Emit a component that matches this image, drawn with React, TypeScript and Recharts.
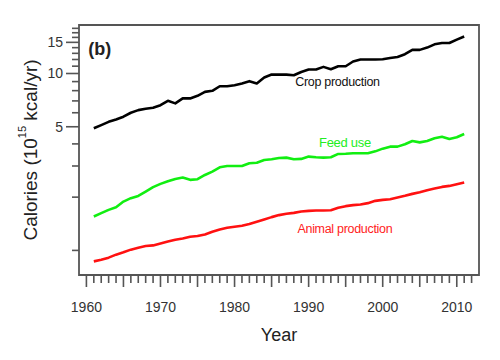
import React from 'react';
import { LineChart, Line, XAxis, YAxis, ReferenceArea, ReferenceDot, Label } from 'recharts';

const years = [1961,1962,1963,1964,1965,1966,1967,1968,1969,1970,1971,1972,1973,1974,1975,1976,1977,1978,1979,1980,1981,1982,1983,1984,1985,1986,1987,1988,1989,1990,1991,1992,1993,1994,1995,1996,1997,1998,1999,2000,2001,2002,2003,2004,2005,2006,2007,2008,2009,2010,2011];

const crop = [4.90,5.11,5.33,5.50,5.70,6.00,6.21,6.32,6.40,6.62,
  7.01,6.78,7.23,7.23,7.48,7.87,7.98,8.47,8.47,8.59,
  8.79,9.05,8.79,9.49,9.86,9.86,9.86,9.77,10.2,10.53,
  10.53,10.9,10.57,10.99,10.99,11.69,11.99,11.99,11.99,12.04,
  12.24,12.4,12.85,13.6,13.6,14.01,14.62,14.87,14.87,15.55,16.2];

const feed = [1.555,1.625,1.695,1.755,1.888,1.973,2.033,2.15,2.277,2.377,
  2.462,2.536,2.58,2.505,2.525,2.67,2.79,2.95,3.0,3.0,
  3.0,3.11,3.13,3.245,3.275,3.33,3.345,3.275,3.29,3.39,
  3.36,3.345,3.36,3.51,3.52,3.54,3.54,3.54,3.63,3.76,
  3.86,3.86,3.98,4.15,4.08,4.15,4.30,4.39,4.26,4.36,4.55];

const animal = [0.867,0.886,0.91,0.946,0.975,1.01,1.036,1.059,1.067,1.095,
  1.124,1.149,1.168,1.194,1.205,1.23,1.274,1.313,1.342,1.36,
  1.378,1.409,1.452,1.496,1.542,1.583,1.61,1.63,1.659,1.673,
  1.68,1.68,1.685,1.74,1.779,1.802,1.817,1.85,1.906,1.931,
  1.948,1.99,2.034,2.087,2.133,2.19,2.236,2.285,2.315,2.366,2.417];

const xTicks = [1960,1961,1962,1963,1964,1965,1966,1967,1968,1969,1970,1971,1972,1973,1974,1975,1976,1977,1978,1979,1980,1981,1982,1983,1984,1985,1986,1987,1988,1989,1990,1991,1992,1993,1994,1995,1996,1997,1998,1999,2000,2001,2002,2003,2004,2005,2006,2007,2008,2009,2010,2011,2012];
const xLabels = [1960,1970,1980,1990,2000,2010];
const yTicks = [1,2,3,4,5,6,7,8,9,10,11,12,13,14,15,16,17,18];
const yLabels = [5,10,15];

const data = years.map((y, i) => ({ year: y, crop: crop[i], feed: feed[i], animal: animal[i] }));

const XTick = (props: any) => {
  const { x, y, payload } = props;
  const v = payload.value;
  const major = v % 5 === 0;
  return (
    <g>
      <rect x={x - 0.8} y={y} width={1.6} height={major ? 12 : 8} fill="#555" />
      {xLabels.includes(v) && (
        <text x={x} y={y + 32} textAnchor="middle" dominantBaseline="central" fontSize={14} fill="#333">{v}</text>
      )}
    </g>
  );
};

const YTick = (props: any) => {
  const { x, y, payload } = props;
  const v = payload.value;
  const lab = yLabels.includes(v);
  const len = lab ? 13 : 7;
  return (
    <g>
      <rect x={x - len} y={y - 0.8} width={len} height={1.6} fill="#555" />
      {lab && (
        <text x={x - 16} y={y} textAnchor="end" dominantBaseline="central" fontSize={14} fill="#333">{v}</text>
      )}
    </g>
  );
};

const YTitle = (props: any) => {
  const vb = props.viewBox;
  const cx = vb.x + 30;
  const cy = vb.y + vb.height / 2;
  return (
    <text x={cx} y={cy} transform={`rotate(-90, ${cx}, ${cy})`} textAnchor="middle" dominantBaseline="central" fontSize={19} fill="#222">
      Calories (10<tspan dy={-8} fontSize={11}>15</tspan><tspan dy={8}> kcal/yr)</tspan>
    </text>
  );
};

export default function App() {
  return (
    <div style={{ position: 'absolute', left: 0, top: 0, fontFamily: '"Liberation Sans", Arial, sans-serif', background: '#fff' }}>
      <LineChart width={500} height={360} data={data} margin={{ top: 25, right: 21, bottom: 0, left: 0 }}>
        <XAxis dataKey="year" type="number" domain={[1959, 2013]} ticks={xTicks} interval={0} allowDataOverflow
          axisLine={false} tickLine={false} tickSize={0} tickMargin={0} height={85} tick={<XTick />}>
          <Label value="Year" position="insideBottom" offset={19} fontSize={18} fill="#222" />
        </XAxis>
        <YAxis type="number" scale="log" domain={[0.726, 18.8]} ticks={yTicks} interval={0} allowDataOverflow
          axisLine={false} tickLine={false} tickSize={0} tickMargin={0} width={79} tick={<YTick />}>
          <Label content={<YTitle />} />
        </YAxis>
        <ReferenceArea x1={1959} x2={2013} y1={0.726} y2={18.8} fill="none" stroke="#555" strokeWidth={1.8} ifOverflow="visible" />
        <Line dataKey="crop" stroke="#000" strokeWidth={2.6} dot={false} isAnimationActive={false} type="linear" strokeLinejoin="round" />
        <Line dataKey="feed" stroke="#11ee11" strokeWidth={2.6} dot={false} isAnimationActive={false} type="linear" strokeLinejoin="round" />
        <Line dataKey="animal" stroke="#ff1111" strokeWidth={2.6} dot={false} isAnimationActive={false} type="linear" strokeLinejoin="round" />
        <ReferenceDot x={1993.9} y={8.97} r={0} fill="none" stroke="none" label={{ value: 'Crop production', position: 'center', fill: '#111', fontSize: 12.5, letterSpacing: -0.3 }} />
        <ReferenceDot x={1994.9} y={4.06} r={0} fill="none" stroke="none" label={{ value: 'Feed use', position: 'center', fill: '#22ee22', fontSize: 13, letterSpacing: -0.3 }} />
        <ReferenceDot x={1994.9} y={1.325} r={0} fill="none" stroke="none" label={{ value: 'Animal production', position: 'center', fill: '#ff2222', fontSize: 12.5, letterSpacing: -0.3 }} />
        <ReferenceDot x={1961.8} y={13.9} r={0} fill="none" stroke="none" label={{ value: '(b)', position: 'center', fill: '#222', fontSize: 18, fontWeight: 'bold' }} />
      </LineChart>
    </div>
  );
}
